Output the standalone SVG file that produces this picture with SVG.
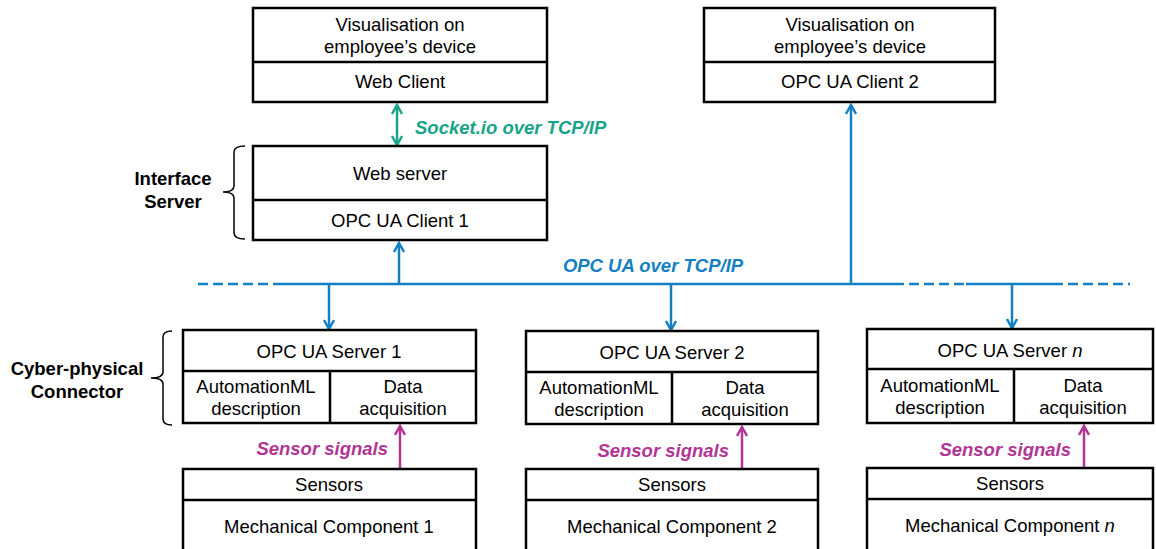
<svg xmlns="http://www.w3.org/2000/svg" width="1156" height="549" viewBox="0 0 1156 549">
  <style>
    .box { fill: #ffffff; stroke: #000000; stroke-width: 2.5; }
    .div { stroke: #000000; stroke-width: 2.5; fill: none; }
    .t { font-family: "Liberation Sans", Arial, sans-serif; font-size: 18.5px; fill: #000000; text-anchor: middle; }
    .lbl { font-family: "Liberation Sans", Arial, sans-serif; font-size: 18.5px; font-weight: bold; fill: #000000; text-anchor: middle; }
    .blue { stroke: #1380c4; stroke-width: 2.5; fill: none; }
    .green { stroke: #18a489; stroke-width: 2.5; fill: none; }
    .mag { stroke: #b23594; stroke-width: 2.5; fill: none; }
    .brace { stroke: #000000; stroke-width: 1.5; fill: none; }
    .it { font-family: "Liberation Sans", Arial, sans-serif; font-size: 18.5px; font-weight: bold; font-style: italic; }
  </style>
  <defs>
    <marker id="ab" viewBox="0 0 12 12" refX="10" refY="6" markerWidth="12" markerHeight="12" markerUnits="userSpaceOnUse" orient="auto-start-reverse">
      <polyline points="1,1 10,6 1,11" fill="none" stroke="#1380c4" stroke-width="2.5"/>
    </marker>
    <marker id="ag" viewBox="0 0 12 12" refX="10" refY="6" markerWidth="12" markerHeight="12" markerUnits="userSpaceOnUse" orient="auto-start-reverse">
      <polyline points="1,1 10,6 1,11" fill="none" stroke="#18a489" stroke-width="2.5"/>
    </marker>
    <marker id="am" viewBox="0 0 12 12" refX="10" refY="6" markerWidth="12" markerHeight="12" markerUnits="userSpaceOnUse" orient="auto-start-reverse">
      <polyline points="1,1 10,6 1,11" fill="none" stroke="#b23594" stroke-width="2.5"/>
    </marker>
  </defs>
  <rect width="1156" height="549" fill="#ffffff"/>

  <!-- connectors -->
  <g id="connectors">
    <!-- OPC UA bus -->
    <line class="blue" x1="198" y1="284" x2="275" y2="284" stroke-dasharray="10,5"/>
    <line class="blue" x1="275" y1="284" x2="894" y2="284"/>
    <line class="blue" x1="894" y1="284" x2="966" y2="284" stroke-dasharray="10,5"/>
    <line class="blue" x1="966" y1="284" x2="1053" y2="284"/>
    <line class="blue" x1="1053" y1="284" x2="1130" y2="284" stroke-dasharray="10,5"/>
    <!-- bus to clients -->
    <line class="blue" x1="399" y1="284" x2="399" y2="243" marker-end="url(#ab)"/>
    <line class="blue" x1="851" y1="284" x2="851" y2="105" marker-end="url(#ab)"/>
    <!-- bus to servers -->
    <line class="blue" x1="329" y1="284" x2="329" y2="329" marker-end="url(#ab)"/>
    <line class="blue" x1="671" y1="284" x2="671" y2="330" marker-end="url(#ab)"/>
    <line class="blue" x1="1012" y1="284" x2="1012" y2="328" marker-end="url(#ab)"/>
    <!-- socket.io link -->
    <line class="green" x1="397" y1="105" x2="397" y2="145" marker-start="url(#ag)" marker-end="url(#ag)"/>
    <!-- sensor signals -->
    <line class="mag" x1="400" y1="469" x2="400" y2="426" marker-end="url(#am)"/>
    <line class="mag" x1="742" y1="469" x2="742" y2="427" marker-end="url(#am)"/>
    <line class="mag" x1="1084" y1="468" x2="1084" y2="426" marker-end="url(#am)"/>
    <!-- connector labels -->
    <text class="it" x="415" y="134" fill="#18a489">Socket.io over TCP/IP</text>
    <text class="it" x="653" y="272" fill="#1380c4" text-anchor="middle">OPC UA over TCP/IP</text>
    <text class="it" x="388" y="455" fill="#b23594" text-anchor="end">Sensor signals</text>
    <text class="it" x="729" y="457" fill="#b23594" text-anchor="end">Sensor signals</text>
    <text class="it" x="1071" y="456" fill="#b23594" text-anchor="end">Sensor signals</text>
  </g>

  <!-- web client -->
  <g id="web-client">
    <rect class="box" x="253" y="8" width="294" height="94"/>
    <line class="div" x1="253" y1="62" x2="547" y2="62"/>
    <text class="t" x="400" y="31">Visualisation on</text>
    <text class="t" x="400" y="53">employee’s device</text>
    <text class="t" x="400" y="88">Web Client</text>
  </g>

  <!-- OPC UA client 2 -->
  <g id="opc-client-2">
    <rect class="box" x="704" y="8" width="291" height="94"/>
    <line class="div" x1="704" y1="62" x2="995" y2="62"/>
    <text class="t" x="850" y="31">Visualisation on</text>
    <text class="t" x="850" y="53">employee’s device</text>
    <text class="t" x="850" y="88">OPC UA Client 2</text>
  </g>

  <!-- interface server -->
  <g id="interface-server">
    <rect class="box" x="253" y="146" width="294" height="94"/>
    <line class="div" x1="253" y1="200" x2="547" y2="200"/>
    <text class="t" x="400" y="180">Web server</text>
    <text class="t" x="400" y="227">OPC UA Client 1</text>
    <path class="brace" d="M245,146 Q234,146 234,152 L234,186 Q234,192 223,192 Q234,192 234,198 L234,233 Q234,239 245,239"/>
    <text class="lbl" x="173" y="185">Interface</text>
    <text class="lbl" x="173" y="208">Server</text>
  </g>

  <!-- cyber-physical connector label -->
  <g id="cpc-label">
    <path class="brace" d="M172,331 Q163,331 163,337 L163,372 Q163,378 151,378 Q163,378 163,384 L163,419 Q163,425 172,425"/>
    <text class="lbl" x="77" y="375">Cyber-physical</text>
    <text class="lbl" x="77" y="398">Connector</text>
  </g>

  <!-- OPC UA server 1 -->
  <g id="opc-server-1">
    <rect class="box" x="183" y="330" width="293" height="93"/>
    <line class="div" x1="183" y1="371" x2="476" y2="371"/>
    <line class="div" x1="330" y1="371" x2="330" y2="423"/>
    <text class="t" x="329" y="358">OPC UA Server 1</text>
    <text class="t" x="256" y="393">AutomationML</text>
    <text class="t" x="256" y="415">description</text>
    <text class="t" x="403" y="393">Data</text>
    <text class="t" x="403" y="415">acquisition</text>
  </g>

  <!-- OPC UA server 2 -->
  <g id="opc-server-2">
    <rect class="box" x="526" y="331" width="292" height="93"/>
    <line class="div" x1="526" y1="372" x2="818" y2="372"/>
    <line class="div" x1="672" y1="372" x2="672" y2="424"/>
    <text class="t" x="672" y="359">OPC UA Server 2</text>
    <text class="t" x="599" y="394">AutomationML</text>
    <text class="t" x="599" y="416">description</text>
    <text class="t" x="745" y="394">Data</text>
    <text class="t" x="745" y="416">acquisition</text>
  </g>

  <!-- OPC UA server n -->
  <g id="opc-server-n">
    <rect class="box" x="867" y="329" width="286" height="94"/>
    <line class="div" x1="867" y1="369" x2="1153" y2="369"/>
    <line class="div" x1="1014" y1="369" x2="1014" y2="423"/>
    <text class="t" x="1010" y="357">OPC UA Server <tspan font-style="italic">n</tspan></text>
    <text class="t" x="940" y="392">AutomationML</text>
    <text class="t" x="940" y="414">description</text>
    <text class="t" x="1083" y="392">Data</text>
    <text class="t" x="1083" y="414">acquisition</text>
  </g>

  <!-- mechanical component 1 -->
  <g id="mech-1">
    <rect class="box" x="183" y="469" width="293" height="95"/>
    <line class="div" x1="183" y1="500" x2="476" y2="500"/>
    <text class="t" x="329" y="491">Sensors</text>
    <text class="t" x="329" y="533">Mechanical Component 1</text>
  </g>

  <!-- mechanical component 2 -->
  <g id="mech-2">
    <rect class="box" x="526" y="469" width="292" height="95"/>
    <line class="div" x1="526" y1="500" x2="818" y2="500"/>
    <text class="t" x="672" y="491">Sensors</text>
    <text class="t" x="672" y="533">Mechanical Component 2</text>
  </g>

  <!-- mechanical component n -->
  <g id="mech-n">
    <rect class="box" x="867" y="468" width="286" height="95"/>
    <line class="div" x1="867" y1="499" x2="1153" y2="499"/>
    <text class="t" x="1010" y="490">Sensors</text>
    <text class="t" x="1010" y="532">Mechanical Component <tspan font-style="italic">n</tspan></text>
  </g>
</svg>
